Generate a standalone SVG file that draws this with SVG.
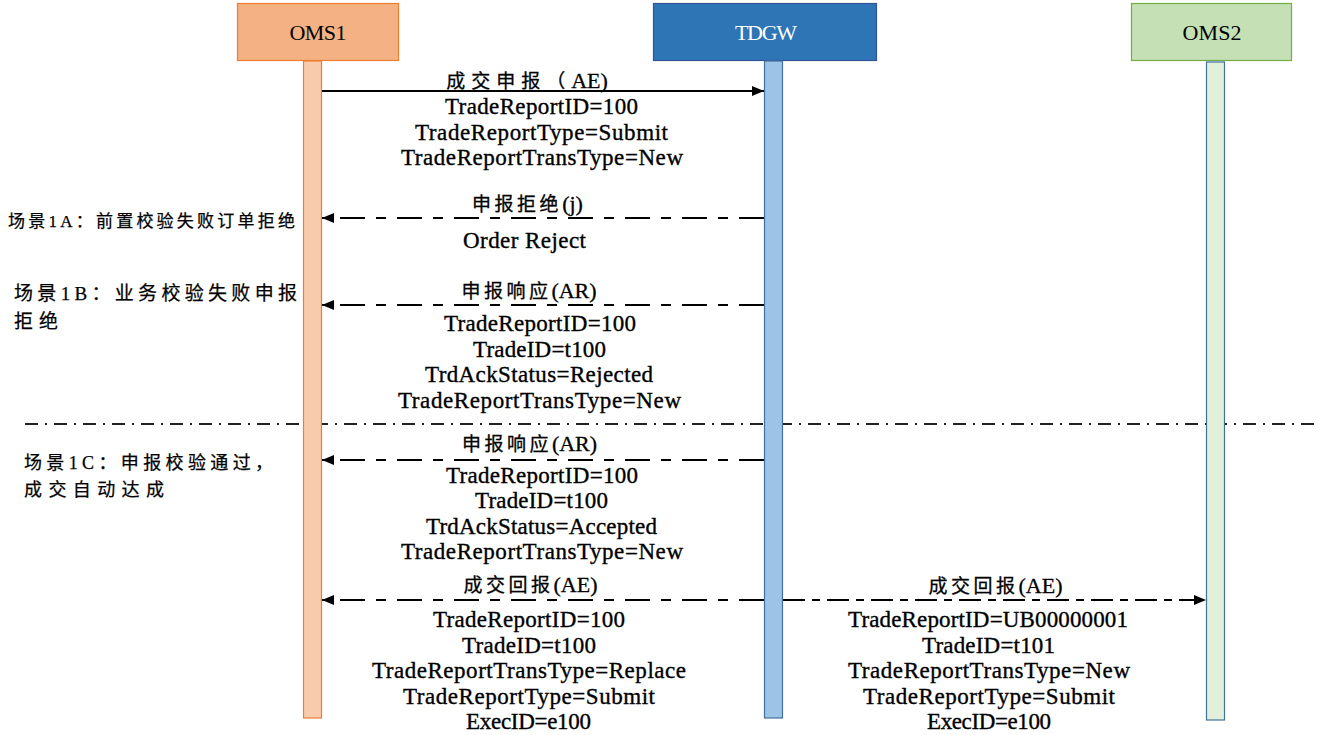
<svg xmlns="http://www.w3.org/2000/svg" width="1324" height="735" viewBox="0 0 1324 735">
<defs>
<marker id="ah" viewBox="0 0 12 10" refX="12" refY="5" markerWidth="12" markerHeight="10" markerUnits="userSpaceOnUse" orient="auto">
<path d="M0,0 L12,5 L0,10 z" fill="#000"/>
</marker>
</defs>
<style>
.t{font-family:'Liberation Serif',serif;font-size:23px;text-anchor:middle;fill:#000;stroke:#000;stroke-width:0.35px;}
.h{font-family:'Liberation Serif',serif;font-size:22px;text-anchor:middle;}
.c{font-family:'Liberation Serif','Noto Sans CJK SC',sans-serif;font-size:22px;text-anchor:middle;fill:#000;stroke:#000;stroke-width:0.3px;}
.k{font-family:'Noto Sans CJK SC',sans-serif;font-size:19px;}
.s{font-family:'Liberation Serif','Noto Sans CJK SC',sans-serif;fill:#000;stroke:#000;stroke-width:0.25px;}
.msg{stroke:#000;stroke-width:2;fill:none;}
.dash{stroke-dasharray:25 11 10 11;}
.dash2{stroke-dasharray:22 7 8 7;}
</style>
<rect width="1324" height="735" fill="#fff"/>
<line x1="25" y1="424" x2="1318" y2="424" stroke="#222" stroke-width="2" stroke-dasharray="13 7 2 7"/>
<g id="connectors">
<line class="msg" x1="321" y1="91" x2="764" y2="91" stroke-width="1.5" marker-end="url(#ah)"/>
<line class="msg dash" x1="764" y1="218" x2="322" y2="218" marker-end="url(#ah)"/>
<line class="msg dash" x1="764" y1="305" x2="322" y2="305" marker-end="url(#ah)"/>
<line class="msg dash" x1="764" y1="460" x2="322" y2="460" marker-end="url(#ah)"/>
<line class="msg dash" x1="764" y1="600" x2="322" y2="600" marker-end="url(#ah)"/>
<line class="msg dash2" x1="783" y1="600" x2="1206" y2="600" marker-end="url(#ah)"/>
</g>
<g id="oms1">
<rect x="237.5" y="3.5" width="161" height="57" fill="#F4B183" stroke="#ED7D31" stroke-width="1.2"/>
<text class="h" x="318" y="40" textLength="57" fill="#000">OMS1</text>
<rect x="303.5" y="61" width="18" height="657" fill="#F8CBAD" stroke="#ED7D31" stroke-width="1.2"/>
</g>
<g id="tdgw">
<rect x="653.5" y="3.5" width="223" height="57" fill="#2E75B6" stroke="#2F5597" stroke-width="1.2"/>
<text class="h" x="766" y="40" textLength="62" fill="#fff">TDGW</text>
<rect x="764.5" y="61" width="18" height="657" fill="#9DC3E6" stroke="#41719C" stroke-width="1.2"/>
</g>
<g id="oms2">
<rect x="1131.5" y="3.5" width="160" height="57" fill="#C5E0B4" stroke="#70AD47" stroke-width="1.2"/>
<text class="h" x="1212" y="40" textLength="59" fill="#000">OMS2</text>
<rect x="1206.5" y="62" width="18" height="658" fill="#E2F0D9" stroke="#41719C" stroke-width="1.2"/>
</g>
<g id="labels">
<text class="c" x="527" y="88"><tspan class="k" letter-spacing="6">成交申报（</tspan>AE)</text>
<text class="t" x="541.5" y="114" textLength="193">TradeReportID=100</text>
<text class="t" x="541.5" y="140" textLength="253">TradeReportType=Submit</text>
<text class="t" x="542" y="165" textLength="282">TradeReportTransType=New</text>

<text class="c" x="527.5" y="211"><tspan class="k" letter-spacing="3.5">申报拒绝</tspan>(j)</text>
<text class="t" x="524.5" y="248" textLength="123">Order Reject</text>

<text class="c" x="529" y="298"><tspan class="k" letter-spacing="3.5">申报响应</tspan>(AR)</text>
<text class="t" x="540" y="331" textLength="192">TradeReportID=100</text>
<text class="t" x="539.5" y="357" textLength="133">TradeID=t100</text>
<text class="t" x="539" y="382" textLength="228">TrdAckStatus=Rejected</text>
<text class="t" x="539.5" y="408" textLength="283">TradeReportTransType=New</text>

<text class="c" x="529.5" y="451"><tspan class="k" letter-spacing="3.5">申报响应</tspan>(AR)</text>
<text class="t" x="542" y="483" textLength="192">TradeReportID=100</text>
<text class="t" x="541.5" y="508" textLength="133">TradeID=t100</text>
<text class="t" x="541.5" y="534" textLength="231">TrdAckStatus=Accepted</text>
<text class="t" x="542" y="559" textLength="282">TradeReportTransType=New</text>

<text class="c" x="530.5" y="592"><tspan class="k" letter-spacing="3.5">成交回报</tspan>(AE)</text>
<text class="t" x="529" y="627" textLength="192">TradeReportID=100</text>
<text class="t" x="529" y="653" textLength="134">TradeID=t100</text>
<text class="t" x="529" y="678" textLength="314">TradeReportTransType=Replace</text>
<text class="t" x="529" y="704" textLength="252">TradeReportType=Submit</text>
<text class="t" x="528.5" y="729" textLength="125">ExecID=e100</text>

<text class="c" x="995.5" y="593"><tspan class="k" letter-spacing="3.5">成交回报</tspan>(AE)</text>
<text class="t" x="988" y="627" textLength="280">TradeReportID=UB00000001</text>
<text class="t" x="988.5" y="653" textLength="133">TradeID=t101</text>
<text class="t" x="989" y="678" textLength="282">TradeReportTransType=New</text>
<text class="t" x="989" y="704" textLength="252">TradeReportType=Submit</text>
<text class="t" x="989" y="729" textLength="124">ExecID=e100</text>

<text class="s" x="8" y="227" font-size="17" textLength="287">场景1A：前置校验失败订单拒绝</text>
<text class="s" x="14" y="300" font-size="19" textLength="283">场景1B：业务校验失败申报</text>
<text class="s" x="14" y="328" font-size="19" textLength="44">拒绝</text>
<text class="s" x="24" y="469" font-size="18" textLength="249">场景1C：申报校验通过，</text>
<text class="s" x="24" y="496" font-size="18" textLength="140">成交自动达成</text>
</g>
</svg>
